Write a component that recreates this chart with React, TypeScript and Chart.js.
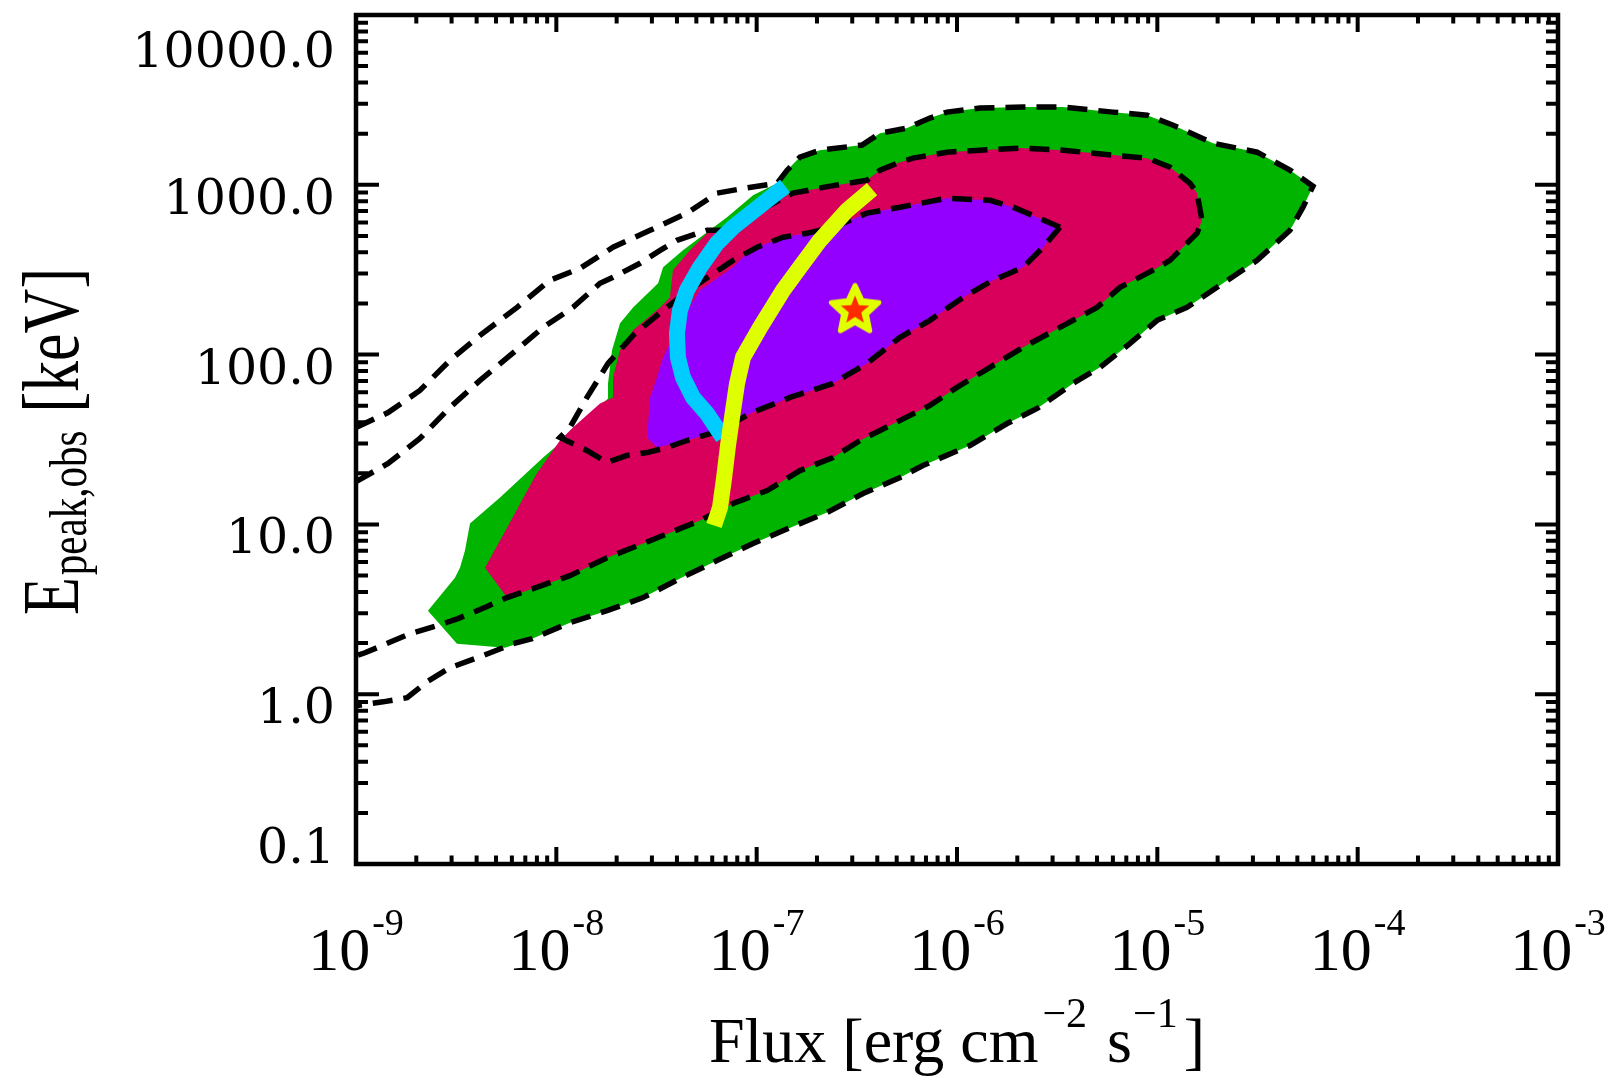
import { useEffect, useRef } from 'react';
import { Chart, registerables } from 'chart.js';

Chart.register(...registerables);

// Every point is [log10 flux (erg cm^-2 s^-1), log10 Epeak,obs (keV)]
type LogPoint = [number, number];

const FLUX_MIN = 1e-9;
const FLUX_MAX = 1e-3;
const EPEAK_MIN = 0.1;
const EPEAK_MAX = 1e4;

const fluxDecades = [-9, -8, -7, -6, -5, -4, -3];
const epeakDecades = [-1, 0, 1, 2, 3, 4];
const epeakTickLabels = ['0.1', '1.0', '10.0', '100.0', '1000.0', '10000.0'];

// Filled regions (outer, middle, inner)
const outerRegion: LogPoint[] = [
  [-8.641, 0.492], [-8.496, 0.297], [-8.256, 0.274], [-8.121, 0.327], [-7.932, 0.421],
  [-7.747, 0.492], [-7.567, 0.569], [-7.383, 0.681], [-7.198, 0.787], [-7.018, 0.887],
  [-6.833, 0.981], [-6.649, 1.07], [-6.469, 1.182], [-6.284, 1.276], [-6.17, 1.347],
  [-5.935, 1.465], [-5.75, 1.594], [-5.6, 1.683], [-5.421, 1.83], [-5.286, 1.925],
  [-5.136, 2.066], [-5.001, 2.202], [-4.852, 2.278], [-4.672, 2.42], [-4.502, 2.555],
  [-4.338, 2.732], [-4.273, 2.868], [-4.223, 2.992], [-4.338, 3.086], [-4.502, 3.192],
  [-4.722, 3.245], [-4.921, 3.351], [-5.051, 3.41], [-5.221, 3.428], [-5.471, 3.458],
  [-5.67, 3.458], [-5.885, 3.452], [-6.05, 3.428], [-6.135, 3.393], [-6.249, 3.334],
  [-6.384, 3.304], [-6.474, 3.234], [-6.684, 3.204], [-6.784, 3.163], [-6.848, 3.086],
  [-6.898, 3.009], [-7.018, 2.939], [-7.148, 2.809], [-7.248, 2.721], [-7.368, 2.614],
  [-7.467, 2.514], [-7.492, 2.42], [-7.617, 2.278], [-7.682, 2.184], [-7.722, 2.025],
  [-7.742, 1.83], [-7.742, 1.742], [-7.847, 1.63], [-7.967, 1.494], [-8.066, 1.394],
  [-8.281, 1.158], [-8.431, 1.005], [-8.456, 0.846], [-8.481, 0.745], [-8.506, 0.686],
  [-8.641, 0.492],
];

const middleRegion: LogPoint[] = [
  [-8.356, 0.745], [-8.246, 0.569], [-8.116, 0.622], [-7.932, 0.698], [-7.747, 0.804],
  [-7.567, 0.887], [-7.383, 0.975], [-7.283, 1.023], [-7.118, 1.123], [-6.948, 1.199],
  [-6.784, 1.317], [-6.619, 1.394], [-6.484, 1.494], [-6.384, 1.553], [-6.135, 1.701],
  [-6.0, 1.807], [-5.835, 1.925], [-5.67, 2.043], [-5.486, 2.16], [-5.301, 2.278],
  [-5.186, 2.396], [-5.021, 2.497], [-4.937, 2.555], [-4.802, 2.715], [-4.777, 2.791],
  [-4.802, 2.951], [-4.837, 3.009], [-4.937, 3.104], [-5.051, 3.157], [-5.221, 3.175],
  [-5.471, 3.204], [-5.685, 3.216], [-5.885, 3.204], [-6.05, 3.192], [-6.22, 3.157],
  [-6.299, 3.127], [-6.384, 3.086], [-6.449, 3.027], [-6.634, 2.992], [-6.819, 2.951],
  [-6.983, 2.88], [-7.118, 2.774], [-7.248, 2.715], [-7.333, 2.614], [-7.418, 2.497],
  [-7.433, 2.337], [-7.482, 2.278], [-7.617, 2.143], [-7.682, 2.025], [-7.717, 1.866],
  [-7.717, 1.748], [-7.782, 1.712], [-7.917, 1.571], [-7.982, 1.494], [-8.101, 1.294],
  [-8.246, 0.981], [-8.356, 0.745],
];

const innerRegion: LogPoint[] = [
  [-7.497, 1.453], [-7.547, 1.512], [-7.532, 1.748], [-7.497, 1.866], [-7.467, 1.984],
  [-7.383, 2.184], [-7.283, 2.379], [-7.118, 2.514], [-7.048, 2.597], [-6.998, 2.632],
  [-6.868, 2.691], [-6.749, 2.715], [-6.619, 2.75], [-6.449, 2.833], [-6.284, 2.868],
  [-6.05, 2.921], [-5.835, 2.909], [-5.72, 2.868], [-5.6, 2.809], [-5.486, 2.75],
  [-5.57, 2.632], [-5.67, 2.514], [-5.82, 2.438], [-5.97, 2.337], [-6.135, 2.202],
  [-6.284, 2.102], [-6.449, 1.948], [-6.619, 1.83], [-6.833, 1.748], [-7.033, 1.653],
  [-7.183, 1.553], [-7.348, 1.494], [-7.497, 1.453],
];

// Dashed contours of the comparison sample
const dashedOuter: LogPoint[] = [
  [-9.0, 1.57], [-8.84, 1.659], [-8.681, 1.789], [-8.531, 1.966], [-8.381, 2.113],
  [-8.196, 2.278], [-8.032, 2.438], [-7.882, 2.508], [-7.717, 2.632], [-7.532, 2.732],
  [-7.348, 2.833], [-7.198, 2.951], [-7.058, 2.98], [-6.898, 3.009], [-6.848, 3.086],
  [-6.784, 3.163], [-6.684, 3.204], [-6.474, 3.234], [-6.384, 3.304], [-6.249, 3.334],
  [-6.135, 3.393], [-6.05, 3.428], [-5.885, 3.452], [-5.67, 3.458], [-5.471, 3.458],
  [-5.221, 3.428], [-5.051, 3.41], [-4.921, 3.351], [-4.722, 3.245], [-4.502, 3.192],
  [-4.338, 3.086], [-4.223, 2.992], [-4.273, 2.868], [-4.338, 2.732], [-4.502, 2.555],
  [-4.672, 2.42], [-4.852, 2.278], [-5.001, 2.202], [-5.136, 2.066], [-5.286, 1.925],
  [-5.421, 1.83], [-5.6, 1.683], [-5.75, 1.594], [-5.935, 1.465], [-6.17, 1.347],
  [-6.284, 1.276], [-6.469, 1.182], [-6.649, 1.07], [-6.833, 0.981], [-7.018, 0.887],
  [-7.198, 0.787], [-7.383, 0.681], [-7.567, 0.569], [-7.747, 0.492], [-7.932, 0.421],
  [-8.121, 0.327], [-8.216, 0.297], [-8.366, 0.227], [-8.531, 0.156], [-8.646, 0.073],
  [-8.745, -0.021], [-8.865, -0.045], [-9.0, -0.068],
];

const dashedMiddle: LogPoint[] = [
  [-9.0, 1.252], [-8.84, 1.359], [-8.681, 1.506], [-8.531, 1.689], [-8.381, 1.848],
  [-8.231, 1.995], [-8.066, 2.16], [-7.917, 2.278], [-7.782, 2.42], [-7.717, 2.455],
  [-7.582, 2.538], [-7.482, 2.614], [-7.398, 2.673], [-7.248, 2.732], [-7.148, 2.732],
  [-6.983, 2.85], [-6.819, 2.951], [-6.634, 2.992], [-6.449, 3.027], [-6.384, 3.086],
  [-6.299, 3.127], [-6.22, 3.157], [-6.05, 3.192], [-5.885, 3.204], [-5.685, 3.216],
  [-5.471, 3.204], [-5.221, 3.175], [-5.051, 3.157], [-4.937, 3.104], [-4.837, 3.009],
  [-4.802, 2.951], [-4.777, 2.791], [-4.802, 2.715], [-4.937, 2.555], [-5.021, 2.497],
  [-5.186, 2.396], [-5.301, 2.278], [-5.486, 2.16], [-5.67, 2.043], [-5.835, 1.925],
  [-6.0, 1.807], [-6.135, 1.701], [-6.384, 1.553], [-6.484, 1.494], [-6.619, 1.394],
  [-6.784, 1.317], [-6.948, 1.199], [-7.118, 1.123], [-7.283, 1.023], [-7.383, 0.975],
  [-7.567, 0.887], [-7.747, 0.804], [-7.932, 0.698], [-8.116, 0.622], [-8.246, 0.569],
  [-8.346, 0.516], [-8.491, 0.445], [-8.581, 0.409], [-8.73, 0.356], [-8.955, 0.244],
  [-9.0, 0.227],
];

const dashedInner: LogPoint[] = [
  [-5.486, 2.75], [-5.6, 2.809], [-5.72, 2.868], [-5.835, 2.909], [-6.05, 2.921],
  [-6.284, 2.868], [-6.449, 2.833], [-6.619, 2.75], [-6.749, 2.715], [-6.868, 2.691],
  [-6.998, 2.632], [-7.118, 2.555], [-7.318, 2.396], [-7.467, 2.261], [-7.617, 2.113],
  [-7.742, 1.948], [-7.847, 1.748], [-7.932, 1.571], [-7.982, 1.512], [-7.847, 1.435],
  [-7.747, 1.365], [-7.647, 1.406], [-7.547, 1.423], [-7.447, 1.453], [-7.348, 1.494],
  [-7.183, 1.553], [-7.033, 1.653], [-6.833, 1.748], [-6.619, 1.83], [-6.449, 1.948],
  [-6.284, 2.102], [-6.135, 2.202], [-5.97, 2.337], [-5.82, 2.438], [-5.67, 2.514],
  [-5.57, 2.632], [-5.486, 2.75],
];

// Model tracks
const cyanTrack: LogPoint[] = [
  [-6.858, 2.992], [-6.948, 2.909], [-7.118, 2.75], [-7.198, 2.656], [-7.283, 2.514],
  [-7.348, 2.379], [-7.383, 2.261], [-7.398, 2.125], [-7.393, 1.984], [-7.368, 1.866],
  [-7.318, 1.748], [-7.248, 1.653], [-7.168, 1.512],
];

const yellowTrack: LogPoint[] = [
  [-6.424, 2.974], [-6.549, 2.85], [-6.684, 2.673], [-6.784, 2.514], [-6.868, 2.379],
  [-6.983, 2.16], [-7.068, 1.984], [-7.098, 1.83], [-7.123, 1.63], [-7.143, 1.465],
  [-7.163, 1.27], [-7.183, 1.099], [-7.213, 0.993],
];

const starPoint: LogPoint[] = [[-6.509, 2.272]];

const COLORS = {
  outer: '#00b400',
  middle: '#d8005a',
  inner: '#9400ff',
  cyan: '#00ccff',
  yellow: '#ddff00',
  starFill: '#ff2a00',
  starEdge: '#e2ff00',
};

const SERIF = '"Liberation Serif", "Times New Roman", serif';
const TICK_SERIF = '"DejaVu Serif", serif';

type Run = { text: string; size: number; shift: number; gap: number };

const xTitleRuns: Run[] = [
  { text: 'Flux [erg cm', size: 64, shift: 0, gap: 0 },
  { text: '\u22122', size: 42, shift: 35, gap: 4 },
  { text: 's', size: 64, shift: 0, gap: 20 },
  { text: '\u22121', size: 42, shift: 35, gap: 1 },
  { text: ']', size: 64, shift: 0, gap: 6 },
];

const yTitleRuns: Run[] = [
  { text: 'E', size: 62, shift: 0, gap: 0 },
  { text: 'peak,obs', size: 41, shift: -6, gap: 2 },
  { text: '[keV]', size: 62, shift: 0, gap: 18 },
];

const toPoints = (pts: LogPoint[]) => pts.map(([lf, le]) => ({ x: 10 ** lf, y: 10 ** le }));

function drawRuns(ctx: CanvasRenderingContext2D, runs: Run[], cx: number, baseY: number) {
  const widths = runs.map((r) => {
    ctx.font = `${r.size}px ${SERIF}`;
    return ctx.measureText(r.text).width;
  });
  const total = runs.reduce((s, r, i) => s + r.gap + widths[i], 0);
  let x = cx - total / 2;
  runs.forEach((r, i) => {
    x += r.gap;
    ctx.font = `${r.size}px ${SERIF}`;
    ctx.fillText(r.text, x, baseY - r.shift);
    x += widths[i];
  });
}

function starPath(ctx: CanvasRenderingContext2D, cx: number, cy: number, R: number, r: number) {
  ctx.beginPath();
  for (let i = 0; i < 10; i++) {
    const rad = i % 2 === 0 ? R : r;
    const a = -Math.PI / 2 + (i * Math.PI) / 5;
    const px = cx + rad * Math.cos(a);
    const py = cy + rad * Math.sin(a);
    if (i === 0) ctx.moveTo(px, py);
    else ctx.lineTo(px, py);
  }
  ctx.closePath();
}

function makeStarMarker(): HTMLCanvasElement {
  const c = document.createElement('canvas');
  c.width = 70;
  c.height = 70;
  const g = c.getContext('2d');
  if (g) {
    starPath(g, 35, 37, 25, 12);
    g.fillStyle = COLORS.starEdge;
    g.strokeStyle = COLORS.starEdge;
    g.lineWidth = 5;
    g.lineJoin = 'round';
    g.fill();
    g.stroke();
    starPath(g, 35, 37, 15, 6.5);
    g.fillStyle = COLORS.starFill;
    g.fill();
  }
  return c;
}

const axisFramePlugin = {
  id: 'axisFrame',
  afterDraw(chart: any) {
    const { ctx, chartArea: a, scales } = chart;
    const xs = scales.x;
    const ys = scales.y;
    ctx.save();
    ctx.strokeStyle = '#000';
    ctx.fillStyle = '#000';
    ctx.lineCap = 'butt';
    ctx.lineWidth = 4;

    // inward ticks on all four sides
    const xTicks: { v: number; major: boolean }[] = [];
    fluxDecades.forEach((d, i) => {
      xTicks.push({ v: 10 ** d, major: true });
      if (i < fluxDecades.length - 1) for (let m = 2; m <= 9; m++) xTicks.push({ v: m * 10 ** d, major: false });
    });
    ctx.beginPath();
    xTicks.forEach(({ v, major }) => {
      const px = xs.getPixelForValue(v);
      const len = major ? 17 : 8.5;
      ctx.moveTo(px, a.bottom);
      ctx.lineTo(px, a.bottom - len);
      ctx.moveTo(px, a.top);
      ctx.lineTo(px, a.top + len);
    });
    const yTicks: { v: number; major: boolean }[] = [];
    epeakDecades.forEach((d, i) => {
      yTicks.push({ v: 10 ** d, major: true });
      if (i < epeakDecades.length - 1) for (let m = 2; m <= 9; m++) yTicks.push({ v: m * 10 ** d, major: false });
    });
    yTicks.forEach(({ v, major }) => {
      const py = ys.getPixelForValue(v);
      const len = major ? 23 : 12;
      ctx.moveTo(a.left, py);
      ctx.lineTo(a.left + len, py);
      ctx.moveTo(a.right, py);
      ctx.lineTo(a.right - len, py);
    });
    ctx.stroke();

    ctx.lineWidth = 4.5;
    ctx.strokeRect(a.left, a.top, a.right - a.left, a.bottom - a.top);

    // x tick labels: 10 with a raised exponent
    ctx.textBaseline = 'alphabetic';
    ctx.textAlign = 'left';
    fluxDecades.forEach((d) => {
      const px = xs.getPixelForValue(10 ** d);
      const sup = `-${-d}`;
      ctx.font = `62px ${SERIF}`;
      const w1 = ctx.measureText('10').width;
      ctx.font = `38px ${SERIF}`;
      const w2 = ctx.measureText(sup).width;
      const start = px - (w1 + 2 + w2) / 2;
      ctx.font = `62px ${SERIF}`;
      ctx.fillText('10', start, a.bottom + 106);
      ctx.font = `38px ${SERIF}`;
      ctx.fillText(sup, start + w1 + 2, a.bottom + 71);
    });

    // y tick labels
    ctx.textAlign = 'right';
    ctx.font = `49px ${TICK_SERIF}`;
    epeakDecades.forEach((d, i) => {
      const py = ys.getPixelForValue(10 ** d);
      const center = Math.min(Math.max(py + 11, a.top + 34), a.bottom - 19);
      ctx.fillText(epeakTickLabels[i], a.left - 21, center + 18);
    });

    // axis titles
    ctx.textAlign = 'left';
    drawRuns(ctx, xTitleRuns, (a.left + a.right) / 2, a.bottom + 198);

    ctx.save();
    ctx.translate(78, (a.top + a.bottom) / 2 + 2);
    ctx.rotate(-Math.PI / 2);
    ctx.scale(1, 1.3);
    drawRuns(ctx, yTitleRuns, 0, 0);
    ctx.restore();

    ctx.restore();
  },
};

export default function App() {
  const canvasRef = useRef<HTMLCanvasElement | null>(null);

  useEffect(() => {
    const canvas = canvasRef.current;
    if (!canvas) return;
    const starMarker = makeStarMarker();

    const region = (pts: LogPoint[], color: string, order: number) => ({
      data: toPoints(pts),
      showLine: true,
      fill: 'shape',
      backgroundColor: color,
      borderColor: 'rgba(0,0,0,0)',
      borderWidth: 0,
      pointRadius: 0,
      order,
    });
    const dashed = (pts: LogPoint[], order: number) => ({
      data: toPoints(pts),
      showLine: true,
      fill: false,
      borderColor: '#000',
      borderWidth: 5.5,
      borderDash: [20, 11],
      pointRadius: 0,
      order,
    });
    const track = (pts: LogPoint[], color: string, order: number) => ({
      data: toPoints(pts),
      showLine: true,
      fill: false,
      borderColor: color,
      borderWidth: 16,
      borderCapStyle: 'butt',
      borderJoinStyle: 'round',
      pointRadius: 0,
      order,
    });

    const chart = new Chart(canvas, {
      type: 'scatter',
      data: {
        datasets: [
          {
            data: toPoints(starPoint),
            pointStyle: starMarker,
            pointRadius: 14,
            showLine: false,
            order: 0,
          },
          track(yellowTrack, COLORS.yellow, 1),
          track(cyanTrack, COLORS.cyan, 2),
          dashed(dashedInner, 3),
          dashed(dashedMiddle, 4),
          dashed(dashedOuter, 5),
          region(innerRegion, COLORS.inner, 6),
          region(middleRegion, COLORS.middle, 7),
          region(outerRegion, COLORS.outer, 8),
        ] as any,
      },
      options: {
        responsive: false,
        animation: false,
        devicePixelRatio: 1,
        events: [],
        layout: { padding: { left: 356, right: 61, top: 15, bottom: 218 } },
        elements: { line: { tension: 0 } },
        plugins: { legend: { display: false }, tooltip: { enabled: false } },
        scales: {
          x: { type: 'logarithmic', min: FLUX_MIN, max: FLUX_MAX, display: false },
          y: { type: 'logarithmic', min: EPEAK_MIN, max: EPEAK_MAX, display: false },
        },
      } as any,
      plugins: [axisFramePlugin],
    });

    return () => chart.destroy();
  }, []);

  return (
    <div style={{ position: 'fixed', left: 0, top: 0, width: 1619, height: 1082, background: '#fff' }}>
      <canvas ref={canvasRef} width={1619} height={1082} style={{ display: 'block', width: 1619, height: 1082 }} />
    </div>
  );
}
